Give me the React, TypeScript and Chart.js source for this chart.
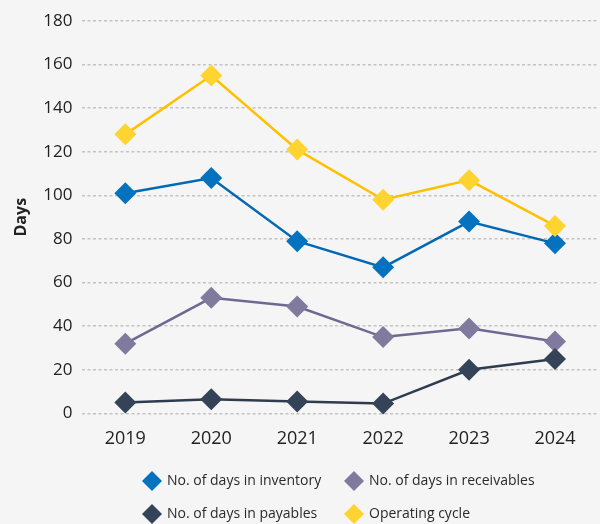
import React, { useEffect, useRef } from "react";
import { Chart, registerables } from "chart.js";

Chart.register(...registerables);

const years = ["2019", "2020", "2021", "2022", "2023", "2024"];
const inventoryDays = [101, 108, 79, 67, 88, 78];
const receivableDays = [32, 53, 49, 35, 39, 33];
const payableDays = [5, 6.5, 5.5, 4.5, 20, 25];
const operatingCycle = [128, 155, 121, 98, 107, 86];
const yTicks = [0, 20, 40, 60, 80, 100, 120, 140, 160, 180];

const seriesNames = [
  "No. of days in inventory",
  "No. of days in receivables",
  "No. of days in payables",
  "Operating cycle",
];
const lineColors = ["#0068b4", "#6f6891", "#2f3c4e", "#ffc000"];
const pointColors = ["#0572bf", "#807a9e", "#344357", "#ffd330"];

const FONT = "'Open Sans', sans-serif";
const BG = "#f5f5f5";

const legendPlugin = {
  id: "customLegend",
  afterDraw(chart: any) {
    const ctx = chart.ctx as CanvasRenderingContext2D;
    const cols = [152, 354];
    const rows = [481, 514];
    ctx.save();
    seriesNames.forEach((name, i) => {
      const cx = cols[i % 2];
      const cy = rows[Math.floor(i / 2)];
      const r = 10;
      ctx.beginPath();
      ctx.moveTo(cx, cy - r);
      ctx.lineTo(cx + r, cy);
      ctx.lineTo(cx, cy + r);
      ctx.lineTo(cx - r, cy);
      ctx.closePath();
      ctx.fillStyle = pointColors[i];
      ctx.fill();
      ctx.fillStyle = "#2a2a2a";
      ctx.font = `14px ${FONT}`;
      ctx.textBaseline = "middle";
      ctx.textAlign = "left";
      ctx.fillText(name, cx + 15, cy);
    });
    ctx.restore();
  },
};

const bgPlugin = {
  id: "bg",
  beforeDraw(chart: any) {
    const ctx = chart.ctx as CanvasRenderingContext2D;
    ctx.save();
    ctx.fillStyle = BG;
    ctx.fillRect(0, 0, chart.width, chart.height);
    ctx.restore();
  },
};

export default function App() {
  const ref = useRef<HTMLCanvasElement | null>(null);
  useEffect(() => {
    document.body.style.margin = "0";
    document.body.style.background = BG;
    const data = [inventoryDays, receivableDays, payableDays, operatingCycle];
    const chart = new Chart(ref.current!, {
      type: "line",
      data: {
        labels: years,
        datasets: data.map((d, i) => ({
          label: seriesNames[i],
          data: d,
          borderColor: lineColors[i],
          backgroundColor: pointColors[i],
          pointBackgroundColor: pointColors[i],
          pointBorderColor: pointColors[i],
          pointBorderWidth: 0,
          borderWidth: 2.5,
          pointStyle: "rectRot",
          pointRadius: 11,
          tension: 0,
          clip: false,
          order: 3 - i,
        })),
      },
      options: {
        animation: false,
        responsive: false,
        maintainAspectRatio: false,
        layout: { autoPadding: false, padding: { top: 21, right: 2, bottom: 59, left: 4 } },
        plugins: {
          legend: { display: false },
          tooltip: { enabled: false },
        },
        scales: {
          x: {
            offset: true,
            grid: { display: false, drawTicks: false },
            border: { display: false },
            afterFit: (s: any) => {
              s.paddingLeft = 0;
              s.paddingRight = 0;
            },
            ticks: {
              color: "#222",
              font: { family: FONT, size: 18 },
              padding: 15,
            },
          },
          y: {
            min: 0,
            max: 180,
            afterBuildTicks: (scale: any) => {
              scale.ticks = yTicks.map((v) => ({ value: v }));
            },
            grid: {
              color: "#c4c4c4",
              lineWidth: 1.5,
              drawTicks: false,
            },
            border: { display: false, dash: [3, 2.5] },
            ticks: {
              color: "#222",
              font: { family: FONT, size: 17 },
              padding: 10,
            },
            title: {
              display: true,
              text: "Days",
              color: "#222",
              font: { family: FONT, size: 16, weight: "bold" },
              padding: { top: 8, bottom: 2 },
            },
          },
        },
      },
      plugins: [bgPlugin, legendPlugin],
    });
    return () => chart.destroy();
  }, []);
  return (
    <div style={{ width: 600, height: 524, background: BG }}>
      <canvas ref={ref} width={600} height={524} style={{ display: "block" }} />
    </div>
  );
}
